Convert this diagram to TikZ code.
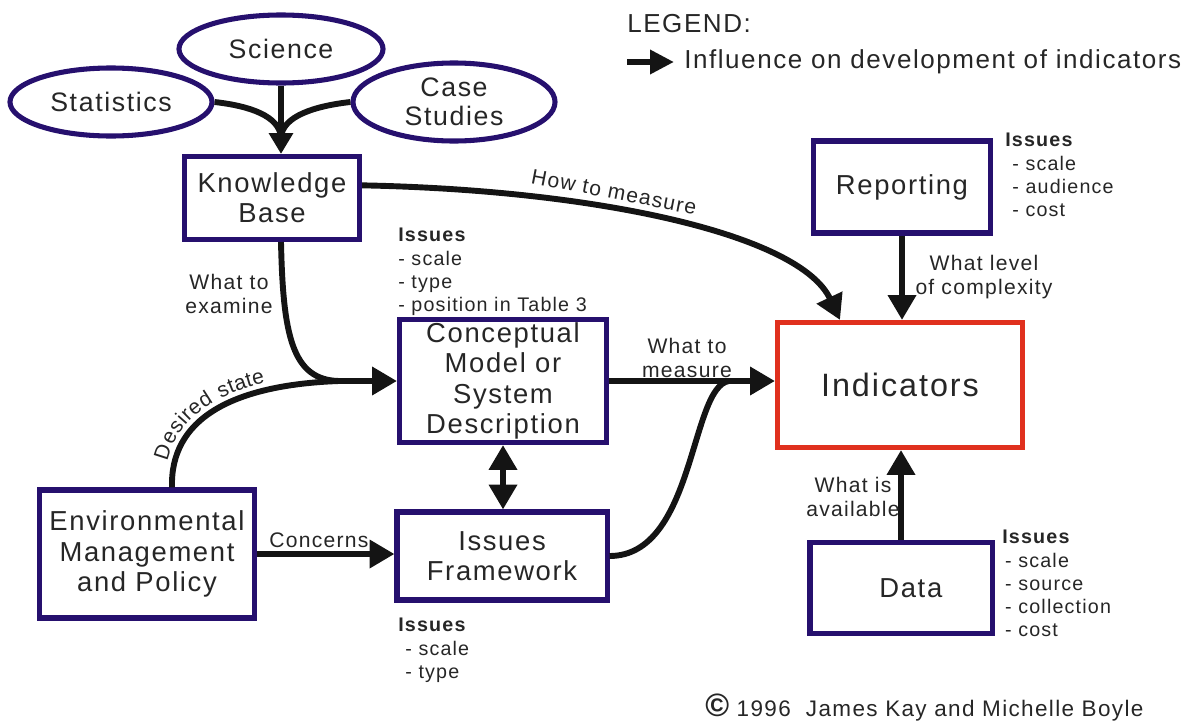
\documentclass[tikz,border=0pt]{standalone}
\usepackage{fontspec}
\setmainfont{Liberation Sans}[LetterSpace=6]
\usepackage{xcolor}
\usetikzlibrary{arrows.meta}
\usetikzlibrary{shapes.geometric}
\usetikzlibrary{calc}
\usetikzlibrary{decorations.text}

\definecolor{boxblue}{HTML}{26106E}
\definecolor{indred}{HTML}{E0301E}
\definecolor{inkgray}{HTML}{262626}

\tikzset{
  topic/.style={ellipse, draw=boxblue, line width=3.6pt, text=inkgray, font=\fontsize{19}{21}\selectfont, align=center, inner sep=0pt},
  block/.style={rectangle, draw=boxblue, line width=3.6pt, text=inkgray, font=\fontsize{19.5}{21.5}\selectfont, align=center, inner sep=0pt},
  wire/.style={draw=black!92, line width=4.2pt},
  flow/.style={wire, -{Triangle[length=0.62cm, width=0.68cm]}},
  twoway/.style={wire, {Triangle[length=0.62cm, width=0.68cm]}-{Triangle[length=0.62cm, width=0.68cm]}},
  lbl/.style={text=inkgray, font=\fontsize{15}{17}\selectfont, align=center, inner sep=0pt},
  issues/.style={text=inkgray, font=\fontsize{14}{16.5}\selectfont, align=left, inner sep=0pt, anchor=north west}
}

\begin{document}
\begin{tikzpicture}[x=0.025cm, y=-0.025cm]
\useasboundingbox (0,0) rectangle (1203,723);

\node[topic, minimum width=5.1cm, minimum height=1.7cm] (sci) at (281,49) {Science};
\node[topic, minimum width=5.05cm, minimum height=1.7cm] (stat) at (111,102) {Statistics};
\node[topic, minimum width=5.05cm, minimum height=1.95cm] (case) at (454,102) {Case\\Studies};

\node[block, minimum width=4.375cm, minimum height=2.075cm] (kb) at (272,198) {Knowledge\\Base};
\node[block, minimum width=5.175cm, minimum height=3.075cm] (con) at (503,381) {Conceptual\\Model or\\System\\Description};
\node[block, minimum width=5.25cm, minimum height=2.2cm] (fw) at (502,556) {Issues\\Framework};
\node[block, minimum width=5.375cm, minimum height=3.2cm] (env) at (147,554) {Environmental\\Management\\and Policy};
\node[block, draw=indred, minimum width=6.125cm, minimum height=3.125cm, font=\fontsize{23}{25}\selectfont] (ind) at (900,385) {Indicators};
\node[block, minimum width=4.425cm, minimum height=2.3cm] (rep) at (902,187) {Reporting};
\node[block, minimum width=4.55cm, minimum height=2.275cm] (data) at (901,588) {\hspace{14pt}Data};

\coordinate (kbjoin) at ($(sci.south |- kb.north)+(0,-17)$);
\coordinate (conjoin) at ($(con.west)+(-58,0)$);
\coordinate (indjoin) at ($(con.east -| ind.west)+(-46,0)$);

\draw[wire, -{Triangle[length=0.52cm, width=0.58cm]}] (sci.south) -- (sci.south |- kb.north);
\draw[wire] (stat.east) .. controls (250,106) and (279,116) .. (kbjoin);
\draw[wire] (case.west) .. controls (315,106) and (283,116) .. (kbjoin);

\draw[flow] (kb.8) .. controls (600,190) and (800,235) .. ($(ind.north)+(-60,0)$);
\draw[flow] (sci.south |- kb.south) .. controls (283,335) and (292,380) .. (conjoin) -- (con.west);
\draw[wire, postaction={decorate, decoration={text along path, raise=5pt, text align/left indent=17pt,
    text={|\fontsize{15}{17}\selectfont\color{inkgray}|Desired state}}}]
  ($(env.north)+(25,0)$) .. controls (170,420) and (230,385) .. (conjoin);
\draw[flow] (con.east) -- (con.east -| ind.west);
\draw[wire] (fw.east) .. controls (695,556) and (690,387) .. (indjoin);
\draw[flow] (env.east) -- (env.east -| fw.west);
\draw[twoway] (con.south) -- (con.south |- fw.north);
\draw[flow] (rep.south) -- (rep.south |- ind.north);
\draw[flow] (data.north) -- (data.north |- ind.south);

\node[lbl, rotate=-11] (howto) at (614,192) {How to measure};
\node[lbl] (examine) at (229,294) {What to\\examine};
\node[lbl] (tomeasure) at (687,358) {What to\\measure};
\node[lbl] (concerns) at (319,540) {Concerns};
\node[lbl] (level) at (984,277) {What level\\of complexity};
\node[lbl] (avail) at (853,497) {What is\\available};

\node[issues] (conissues) at (398,228) {\textbf{Issues}\\- scale\\- type\\- position in Table 3};
\node[issues] (repissues) at (1005,133) {\textbf{Issues}\\\hspace{5pt}- scale\\\hspace{5pt}- audience\\\hspace{5pt}- cost};
\node[issues] (dataissues) at (1002,530) {\textbf{Issues}\\\hspace{2pt}- scale\\\hspace{2pt}- source\\\hspace{2pt}- collection\\\hspace{2pt}- cost};
\node[issues] (fwissues) at (398,618) {\textbf{Issues}\\\hspace{5pt}- scale\\\hspace{5pt}- type};

\node[text=inkgray, font=\fontsize{18.5}{20}\selectfont, anchor=west, inner sep=0pt] (legend) at (627,24) {LEGEND:};
\node[text=inkgray, font=\fontsize{18.5}{20}\selectfont, anchor=west, inner sep=0pt] (legtext) at (684,62) {Influence on development of indicators};
\coordinate (legstart) at (627,62);
\draw[wire, -{Triangle[length=0.6cm, width=0.58cm]}] (legstart) -- ($(legtext.west)+(-10,0)$);

\node[text=inkgray, font=\fontsize{16}{18}\selectfont, anchor=west, inner sep=0pt] (credit) at (705,708) {{\fontsize{23}{23}\selectfont\bfseries\textcopyright}\ 1996\ \ James Kay and Michelle Boyle};
\end{tikzpicture}
\end{document}
